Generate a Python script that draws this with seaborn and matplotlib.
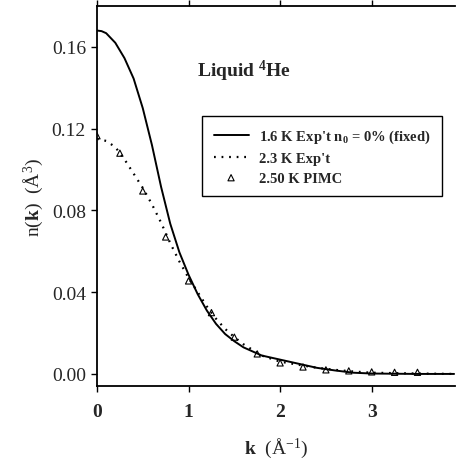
import matplotlib
matplotlib.use("Agg")
import matplotlib.pyplot as plt
import seaborn as sns
import pandas as pd

# ---- data ----
k_fit16 = [0.0, 0.05, 0.1, 0.2, 0.3, 0.4, 0.5, 0.6, 0.7, 0.8, 0.9, 1.0, 1.1, 1.2, 1.3,
           1.4, 1.5, 1.6, 1.8, 2.0, 2.2, 2.4, 2.6, 2.8, 3.0, 3.5, 3.9]
n_fit16 = [0.168, 0.1677, 0.1667, 0.162, 0.1545, 0.1445, 0.130, 0.112, 0.0915, 0.0735,
           0.0595, 0.0485, 0.039, 0.031, 0.0245, 0.0195, 0.016, 0.013, 0.009, 0.007,
           0.005, 0.003, 0.0017, 0.0006, 0.0002, 0.0, 0.0]

k_exp23 = [0.0, 0.1, 0.2, 0.3, 0.4, 0.5, 0.6, 0.7, 0.8, 0.9, 1.0, 1.1, 1.2, 1.3,
           1.4, 1.5, 1.6, 1.8, 2.0, 2.2, 2.4, 2.6, 2.8, 3.0, 3.5, 3.9]
n_exp23 = [0.115, 0.114, 0.111, 0.105, 0.098, 0.091, 0.083, 0.074, 0.064, 0.055,
           0.047, 0.040, 0.033, 0.027, 0.022, 0.018, 0.0145, 0.009, 0.006, 0.0045,
           0.003, 0.002, 0.0012, 0.0006, 0.0002, 0.0]

k_pimc = [0.0, 0.25, 0.5, 0.75, 1.0, 1.25, 1.5, 1.75, 2.0, 2.25, 2.5, 2.75, 3.0, 3.25, 3.5]
n_pimc = [0.1165, 0.108, 0.0895, 0.067, 0.0455, 0.030, 0.018, 0.0098, 0.0054,
          0.0034, 0.002, 0.0015, 0.001, 0.0008, 0.0008]

labels = ["1.6 K Exp't n$_0$ = 0% (fixed)", "2.3 K Exp't", "2.50 K PIMC"]
x_ticks = [0, 1, 2, 3]
y_ticks = [0.00, 0.04, 0.08, 0.12, 0.16]

# ---- style ----
sns.set_style("ticks")
plt.rcParams["font.family"] = ["Liberation Serif", "DejaVu Serif"]
plt.rcParams["mathtext.fontset"] = "custom"
plt.rcParams["mathtext.rm"] = "Liberation Serif"
plt.rcParams["mathtext.it"] = "Liberation Serif:italic"
plt.rcParams["mathtext.bf"] = "Liberation Serif:bold"
plt.rcParams["mathtext.default"] = "regular"

fig = plt.figure(figsize=(4.61, 4.60), dpi=100)
ax = fig.add_axes([0.2104, 0.1587, 0.7766, 0.8261])

df16 = pd.DataFrame({"k": k_fit16, "n": n_fit16})
df23 = pd.DataFrame({"k": k_exp23, "n": n_exp23})
dfp = pd.DataFrame({"k": k_pimc, "n": n_pimc})

sns.lineplot(data=df16, x="k", y="n", ax=ax, color="black", lw=1.4,
             label=labels[0], sort=True)
sns.lineplot(data=df23, x="k", y="n", ax=ax, color="black", lw=1.6,
             linestyle=(0, (0.8, 2.6)), label=labels[1], sort=True)
sns.scatterplot(data=dfp, x="k", y="n", ax=ax, marker="^", s=20,
                facecolor="none", edgecolor="black", linewidth=0.8,
                label=labels[2], zorder=3)

ax.set_xlim(0, 3.91)
ax.set_ylim(-0.0059, 0.180)
ax.set_xticks(x_ticks)
ax.set_xticklabels([str(v) for v in x_ticks], fontweight="bold", fontsize=14)
ax.set_yticks(y_ticks)
ax.set_yticklabels([f"{v:.2f}" for v in y_ticks], fontsize=14)

ax.spines["right"].set_visible(False)
for s in ["left", "bottom", "top"]:
    ax.spines[s].set_linewidth(1.3)
    ax.spines[s].set_color("black")
ax.tick_params(axis="both", direction="out", length=4, width=1.0, color="black")
ax.tick_params(axis="x", top=True, labeltop=False, pad=8)
ax.tick_params(axis="y", pad=4)

ax.set_xlabel(r"$\mathbf{k}$  (Å$^{-1}$)", fontsize=14, labelpad=11)
ax.set_ylabel(r"n($\mathbf{k}$)  (Å$^3$)", fontsize=14, labelpad=5)

ax.text(0.28, 0.83, r"Liquid $^\mathbf{4}$He", transform=ax.transAxes,
        fontsize=14, fontweight="bold", va="center", ha="left")

leg = ax.legend(loc="upper left", bbox_to_anchor=(0.293, 0.7105), frameon=True,
                fancybox=False, framealpha=1, edgecolor="black",
                prop={"family": "Liberation Serif", "weight": "bold", "size": 10.5},
                handlelength=2.4, labelspacing=0.45, borderpad=0.8,
                handletextpad=0.7, borderaxespad=0)
leg.get_frame().set_linewidth(1.0)

fig.savefig("out.png", dpi=100)
